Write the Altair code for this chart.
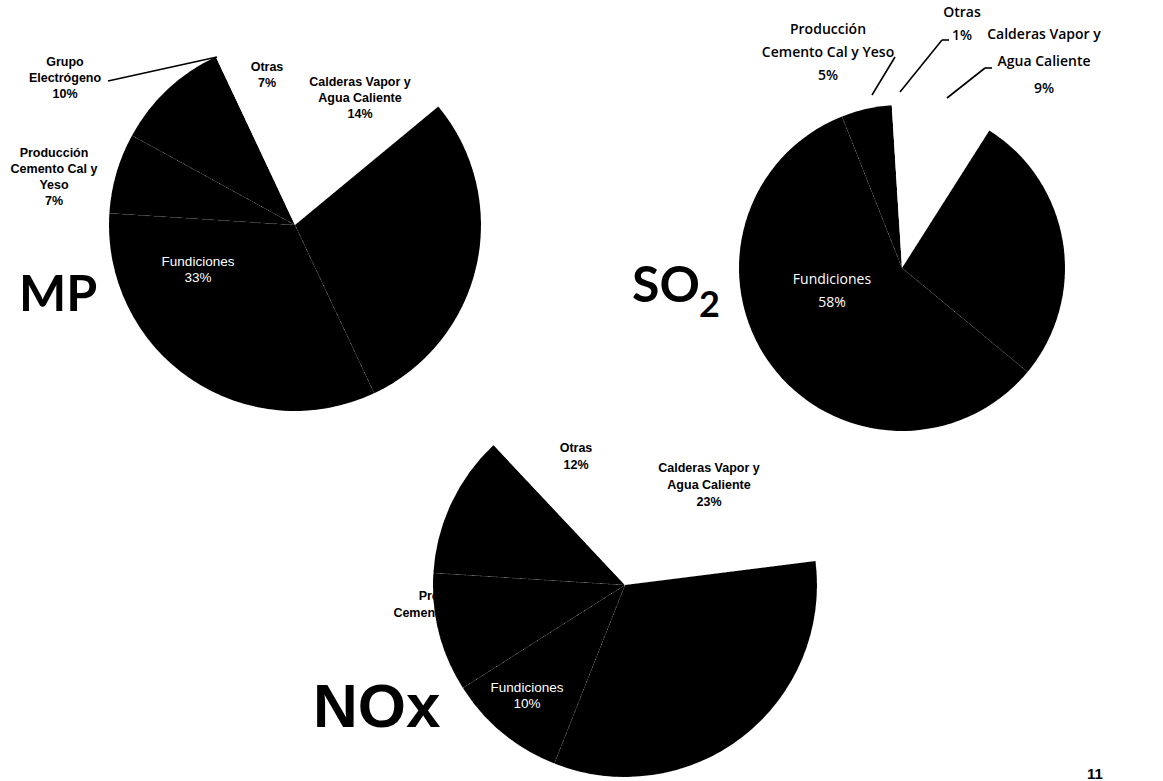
import altair as alt
import pandas as pd

W, H = 1163, 781

# ---------------- data ----------------
# order = clockwise from 12 o'clock; "Resto (no legible)" = black slices whose labels are unreadable
mp_categorias = ["Calderas Vapor y Agua Caliente", "Resto (no legible)", "Fundiciones",
                 "Producción Cemento Cal y Yeso", "Grupo Electrógeno", "Otras"]
mp_valores = [14, 29, 33, 7, 10, 7]

so2_categorias = ["Calderas Vapor y Agua Caliente", "Resto (no legible)", "Fundiciones",
                  "Producción Cemento Cal y Yeso", "Otras"]
so2_valores = [9, 27, 58, 5, 1]

nox_categorias = ["Calderas Vapor y Agua Caliente", "Resto (no legible)", "Fundiciones",
                  "Producción Cemento Cal y Yeso", "Grupo Electrógeno", "Otras"]
nox_valores = [23, 33, 10, 10, 12, 12]

categorias_blancas = ["Otras", "Calderas Vapor y Agua Caliente"]

# label wrapping (text only)
wrap_mp = {
    "Grupo Electrógeno": "Grupo\nElectrógeno",
    "Otras": "Otras",
    "Calderas Vapor y Agua Caliente": "Calderas Vapor y\nAgua Caliente",
    "Producción Cemento Cal y Yeso": "Producción\nCemento Cal y\nYeso",
    "Fundiciones": "Fundiciones",
}
wrap_so2 = {
    "Producción Cemento Cal y Yeso": "Producción\nCemento Cal y Yeso",
    "Otras": "Otras",
    "Calderas Vapor y Agua Caliente": "Calderas Vapor y\nAgua Caliente",
    "Fundiciones": "Fundiciones",
}
wrap_nox = {
    "Otras": "Otras",
    "Calderas Vapor y Agua Caliente": "Calderas Vapor y\nAgua Caliente",
    "Fundiciones": "Fundiciones",
    "Producción Cemento Cal y Yeso": "Producción\nCemento Cal y Yeso",
}

# ---------------- layout (pixels; y = first text line) ----------------
mp_centro, mp_radio = (295, 225), 186
so2_centro, so2_radio = (902, 268), 163
nox_centro, nox_radio = (625, 585), 192

mp_pos = {"Grupo Electrógeno": (65, 62), "Otras": (267, 67),
          "Calderas Vapor y Agua Caliente": (360, 82),
          "Producción Cemento Cal y Yeso": (54, 153)}
mp_pos_dentro = {"Fundiciones": (198, 262)}
so2_pos = {"Producción Cemento Cal y Yeso": (828, 30), "Otras": (962, 13)}
so2_pos_calderas = {"Calderas Vapor y Agua Caliente": (1044, 35)}
so2_pos_dentro = {"Fundiciones": (832, 280)}
nox_pos = {"Otras": (576, 448), "Calderas Vapor y Agua Caliente": (709, 468),
           "Producción Cemento Cal y Yeso": (453, 596)}
nox_pos_dentro = {"Fundiciones": (527, 688)}

lineas_x = [108, 895, 942, 942, 985, 985]
lineas_y = [81, 57, 40, 40, 68, 68]
lineas_x2 = [217, 872, 949, 900, 992, 947]
lineas_y2 = [57, 95, 40, 92, 68, 98]


def pie(cats, vals, centro, radio):
    df = pd.DataFrame({"categoria": cats, "valor": vals, "orden": list(range(len(cats)))})
    blancas = "[" + ",".join("'" + c + "'" for c in categorias_blancas) + "]"
    return (
        alt.Chart(df)
        .transform_calculate(tono=f"indexof({blancas}, datum.categoria) >= 0 ? 'blanco' : 'negro'")
        .mark_arc(radius=radio, stroke="white", strokeWidth=0.7, strokeDash=[1, 7], strokeOpacity=0.45)
        .encode(
            theta=alt.Theta("valor:Q", stack=True, scale=alt.Scale(domain=[0, 100])),
            order=alt.Order("orden:Q"),
            fill=alt.Fill("tono:N", scale=alt.Scale(domain=["negro", "blanco"], range=["black", "white"]), legend=None),
            x=alt.value(centro[0]),
            y=alt.value(centro[1]),
        )
    )


def etiquetas(cats, vals, wrap, pos, **estilo):
    filas = []
    for c, v in zip(cats, vals):
        if c in pos:
            filas.append({"texto": f"{wrap[c]}\n{v}%", "lx": pos[c][0], "ly": pos[c][1]})
    df = pd.DataFrame(filas)
    return alt.Chart(df).mark_text(lineBreak="\n", align="center", baseline="middle", **estilo).encode(
        x=alt.X("lx:Q", scale=None, axis=None),
        y=alt.Y("ly:Q", scale=None, axis=None),
        text="texto:N",
    )


estilo_bold = dict(font="Liberation Sans", fontWeight="bold", fontSize=12.5, lineHeight=16, color="black")
estilo_bold_nox = dict(font="Liberation Sans", fontWeight="bold", fontSize=12.5, lineHeight=17, color="black")
estilo_blanco = dict(font="Liberation Sans", fontSize=13.5, lineHeight=16, color="white")
estilo_so2 = dict(font="Open Sans", fontWeight=600, fontSize=14, lineHeight=23, color="black")
estilo_so2_calderas = dict(font="Open Sans", fontWeight=600, fontSize=14, lineHeight=27, color="black")
estilo_so2_blanco = dict(font="Open Sans", fontSize=14, lineHeight=23, color="white")

lineas_df = pd.DataFrame({"x": lineas_x, "y": lineas_y, "x2": lineas_x2, "y2": lineas_y2})
lineas = alt.Chart(lineas_df).mark_rule(color="black", strokeWidth=1.6).encode(
    x=alt.X("x:Q", scale=None, axis=None), y=alt.Y("y:Q", scale=None, axis=None),
    x2="x2:Q", y2="y2:Q",
)


def titulo(texto, x, y, font, size):
    return alt.Chart(pd.DataFrame({"t": [texto]})).mark_text(
        align="left", baseline="alphabetic", font=font, fontWeight="bold", fontSize=size, color="black"
    ).encode(x=alt.value(x), y=alt.value(y), text="t:N")


capas = [
    pie(mp_categorias, mp_valores, mp_centro, mp_radio),
    pie(so2_categorias, so2_valores, so2_centro, so2_radio),
    pie(nox_categorias, nox_valores, nox_centro, nox_radio),
    lineas,
    etiquetas(mp_categorias, mp_valores, wrap_mp, mp_pos, **estilo_bold),
    etiquetas(mp_categorias, mp_valores, wrap_mp, mp_pos_dentro, **estilo_blanco),
    etiquetas(so2_categorias, so2_valores, wrap_so2, so2_pos, **estilo_so2),
    etiquetas(so2_categorias, so2_valores, wrap_so2, so2_pos_calderas, **estilo_so2_calderas),
    etiquetas(so2_categorias, so2_valores, wrap_so2, so2_pos_dentro, **estilo_so2_blanco),
    etiquetas(nox_categorias, nox_valores, wrap_nox, nox_pos, **estilo_bold_nox),
    etiquetas(nox_categorias, nox_valores, wrap_nox, nox_pos_dentro, **estilo_blanco),
    titulo("MP", 19, 311, "Lato", 50),
    titulo("SO", 632, 302, "Lato", 50),
    titulo("2", 699, 317, "Lato", 36),
    titulo("NOx", 313, 727, "Liberation Sans", 62),
    titulo("11", 1087, 779, "Liberation Sans", 15),
]

chart = (
    alt.layer(*capas)
    .properties(width=W, height=H, padding=0, autosize="none", background="white")
    .configure_view(stroke=None)
)

chart.save("out.html", embed_options={"renderer": "svg", "actions": False})
